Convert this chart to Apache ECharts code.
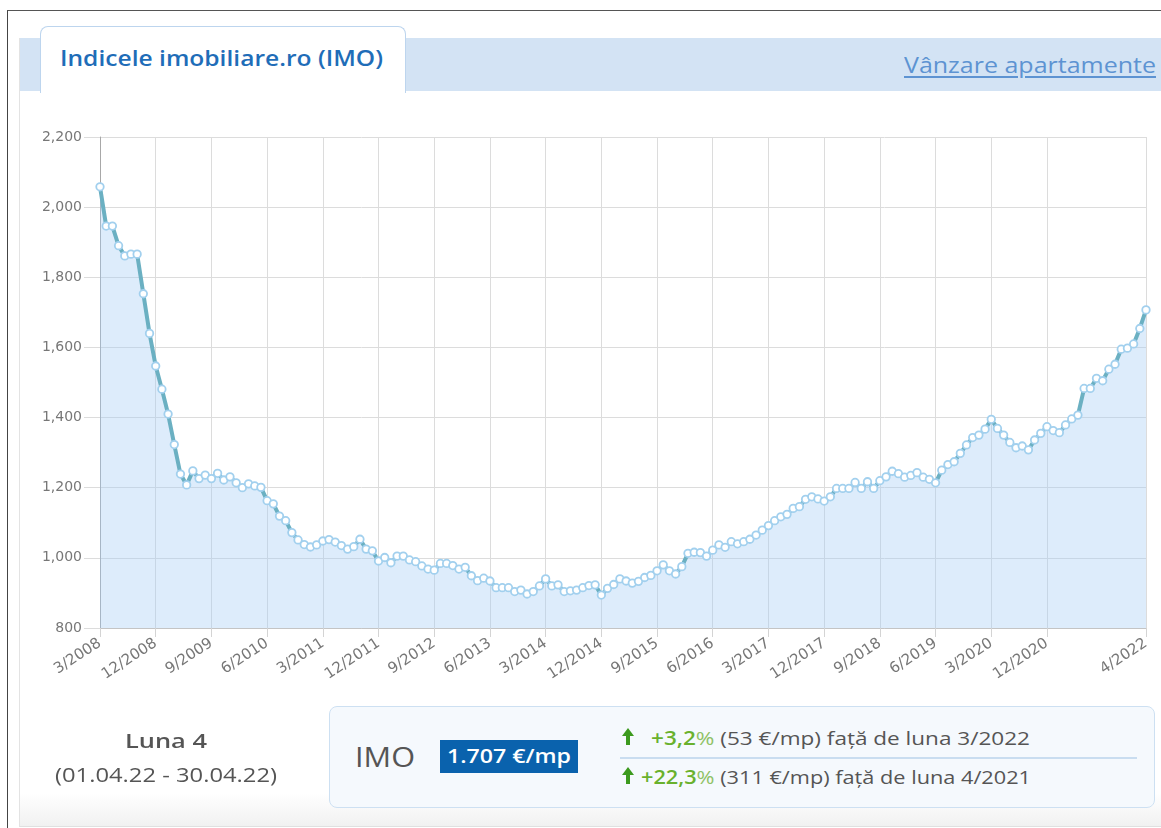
<!DOCTYPE html>
<html>
<head>
<meta charset="utf-8">
<script src="https://cdn.jsdelivr.net/npm/echarts@6/dist/echarts.min.js"></script>
<style>
  html,body{margin:0;padding:0;background:#fff;}
  #wrap{position:relative;width:1161px;height:828px;overflow:hidden;background:#fff;font-family:"Open Sans",sans-serif;}
  .abs{position:absolute;white-space:nowrap;}
  #chart{position:absolute;left:0;top:0;width:1161px;height:828px;}
  .arrow{position:absolute;width:12px;height:17px;}
  .arrow:before{content:"";position:absolute;left:0;top:0;border-left:6px solid transparent;border-right:6px solid transparent;border-bottom:8px solid #3c9a1e;}
  .arrow:after{content:"";position:absolute;left:4px;top:7px;width:4px;height:10px;background:#3c9a1e;}
</style>
</head>
<body>
<div id="wrap">
  <div class="abs" style="left:7px;top:10px;width:1160px;height:830px;border-left:1.5px solid #444;border-top:1.5px solid #555;"></div>
  <div class="abs" style="left:19px;top:38px;width:1150px;height:788px;border-left:1px solid #e3e3e3;border-bottom:1px solid #e0e0e0;background:linear-gradient(to bottom,#fff 0px,#fff 755px,#f1f1f1 788px);"></div>
  <div class="abs" style="left:20px;top:38px;width:1141px;height:53px;background:#d3e3f4;"></div>
  <div class="abs" style="left:40px;top:26px;width:364px;height:66px;background:#fff;border:1px solid #bdd5ee;border-bottom:none;border-radius:8px 8px 0 0;"></div>
  <div class="abs fit" data-w="323" style="left:60px;top:45px;font-size:21px;line-height:26px;font-weight:600;color:#1f6db8;">Indicele imobiliare.ro (IMO)</div>
  <div class="abs fit" data-w="252" style="left:904px;top:52px;font-size:21px;line-height:26px;color:#5d93d2;text-decoration:underline;text-underline-offset:3px;">Vânzare apartamente</div>

  <div id="chart"></div>

  <div class="abs fit" data-w="82" data-c="166" style="left:125px;top:728px;font-size:20px;line-height:26px;font-weight:600;color:#555;">Luna 4</div>
  <div class="abs fit" data-w="222" data-c="166" style="left:55px;top:762px;font-size:20px;line-height:26px;color:#555;">(01.04.22 - 30.04.22)</div>

  <div class="abs" style="left:329px;top:706px;width:824px;height:100px;border:1.5px solid #cde0f2;border-radius:8px;background:#f5f9fd;"></div>
  <div class="abs fit" data-w="60" style="left:355px;top:739px;font-size:28px;line-height:34px;font-weight:500;color:#555;">IMO</div>
  <div class="abs" style="left:440px;top:740px;width:138px;height:33px;background:#0a62ad;"></div>
  <div class="abs fit" data-w="124" data-c="509" style="left:447px;top:744px;font-size:19px;line-height:25px;font-weight:600;color:#fff;">1.707 €/mp</div>

  <div class="arrow" style="left:622px;top:728px;"></div>
  <div class="abs fit" data-w="379" style="left:651px;top:726px;font-size:19px;line-height:25px;color:#555;"><span style="color:#69b12d;font-weight:600;">+3,2</span><span style="color:#8fc266;">%</span> (53 €/mp) față de luna 3/2022</div>
  <div class="abs" style="left:620px;top:757px;width:517px;height:1.5px;background:#c9ddf0;"></div>
  <div class="arrow" style="left:622px;top:767px;"></div>
  <div class="abs fit" data-w="390" style="left:641px;top:765px;font-size:19px;line-height:25px;color:#555;"><span style="color:#69b12d;font-weight:600;">+22,3</span><span style="color:#8fc266;">%</span> (311 €/mp) față de luna 4/2021</div>
</div>
<script>
// ---- data ----
const startYear = 2008, startMonth = 3, endYear = 2022, endMonth = 4;
const categories = [];
for (let y = startYear, m = startMonth; y < endYear || (y === endYear && m <= endMonth); ) {
  categories.push(m + '/' + y);
  m++; if (m > 12) { m = 1; y++; }
}
const imoValues = [
  2058,1946,1946,1890,1861,1866,1866,1753,1640,1547,
  1481,1410,1323,1239,1208,1248,1226,1236,1226,1241,
  1222,1231,1214,1200,1211,1205,1201,1163,1154,1119,
  1106,1072,1051,1038,1031,1037,1048,1052,1045,1035,
  1025,1032,1053,1025,1020,991,1001,986,1005,1005,
  994,989,977,968,965,984,984,978,968,973,
  949,935,942,934,915,915,915,904,908,897,
  904,920,940,920,923,904,906,908,915,921,
  923,894,913,924,940,934,928,933,944,950,
  963,980,963,954,975,1013,1016,1015,1005,1022,
  1037,1030,1046,1040,1046,1053,1065,1079,1092,1106,
  1117,1124,1141,1146,1167,1174,1168,1162,1174,1198,
  1198,1198,1215,1198,1217,1198,1220,1231,1247,1240,
  1230,1235,1243,1230,1224,1214,1250,1266,1274,1298,
  1322,1343,1350,1367,1395,1369,1350,1329,1314,1319,
  1308,1336,1355,1374,1363,1357,1379,1396,1407,1483,
  1483,1512,1505,1538,1552,1595,1598,1610,1654,1707
];
const xTickLabels = ['3/2008','12/2008','9/2009','6/2010','3/2011','12/2011','9/2012','6/2013','3/2014','12/2014','9/2015','6/2016','3/2017','12/2017','9/2018','6/2019','3/2020','12/2020','4/2022'];
const yMin = 800, yMax = 2200, yStep = 200;

// ---- fit texts (horizontal scale to the reference widths) ----
document.querySelectorAll('.fit').forEach(el => {
  const target = +el.dataset.w;
  const w = el.getBoundingClientRect().width;
  const s = target / w;
  el.style.transformOrigin = '0 50%';
  el.style.transform = 'scaleX(' + s + ')';
  if (el.dataset.c) {
    el.style.left = (+el.dataset.c - target / 2) + 'px';
  }
});

// ---- chart ----
const showIdx = (i) => xTickLabels.indexOf(categories[i]) >= 0;
const chart = echarts.init(document.getElementById('chart'), null, {renderer: 'canvas'});
chart.setOption({
  animation: false,
  grid: {left: 100, right: 15, top: 137, bottom: 200},
  xAxis: {
    type: 'category',
    data: categories,
    boundaryGap: false,
    axisLine: {lineStyle: {color: '#c4c4c4', width: 1}},
    axisTick: {show: true, interval: showIdx, length: 9, lineStyle: {color: '#d4d4d4'}},
    axisLabel: {interval: showIdx, rotate: 33, margin: 14, color: '#777', fontFamily: 'DejaVu Sans', fontSize: 15},
    splitLine: {show: true, interval: showIdx, lineStyle: {color: '#dcdcdc', width: 1}}
  },
  yAxis: {
    type: 'value',
    min: yMin, max: yMax, interval: yStep,
    axisLine: {show: true, lineStyle: {color: '#a8a8a8', width: 1}},
    axisTick: {show: true, length: 16, lineStyle: {color: '#dcdcdc'}},
    axisLabel: {margin: 18, color: '#777', fontFamily: 'DejaVu Sans', fontSize: 14,
      formatter: v => v.toLocaleString('en-US')},
    splitLine: {show: true, lineStyle: {color: '#dcdcdc', width: 1}}
  },
  series: [{
    type: 'line',
    data: imoValues,
    showAllSymbol: true,
    symbol: 'circle',
    symbolSize: 7.5,
    itemStyle: {color: '#ffffff', borderColor: '#a2d0ee', borderWidth: 1.8},
    lineStyle: {color: '#6bb0c2', width: 4},
    areaStyle: {color: 'rgba(166,206,244,0.55)'}
  }]
});
</script>
</body>
</html>
